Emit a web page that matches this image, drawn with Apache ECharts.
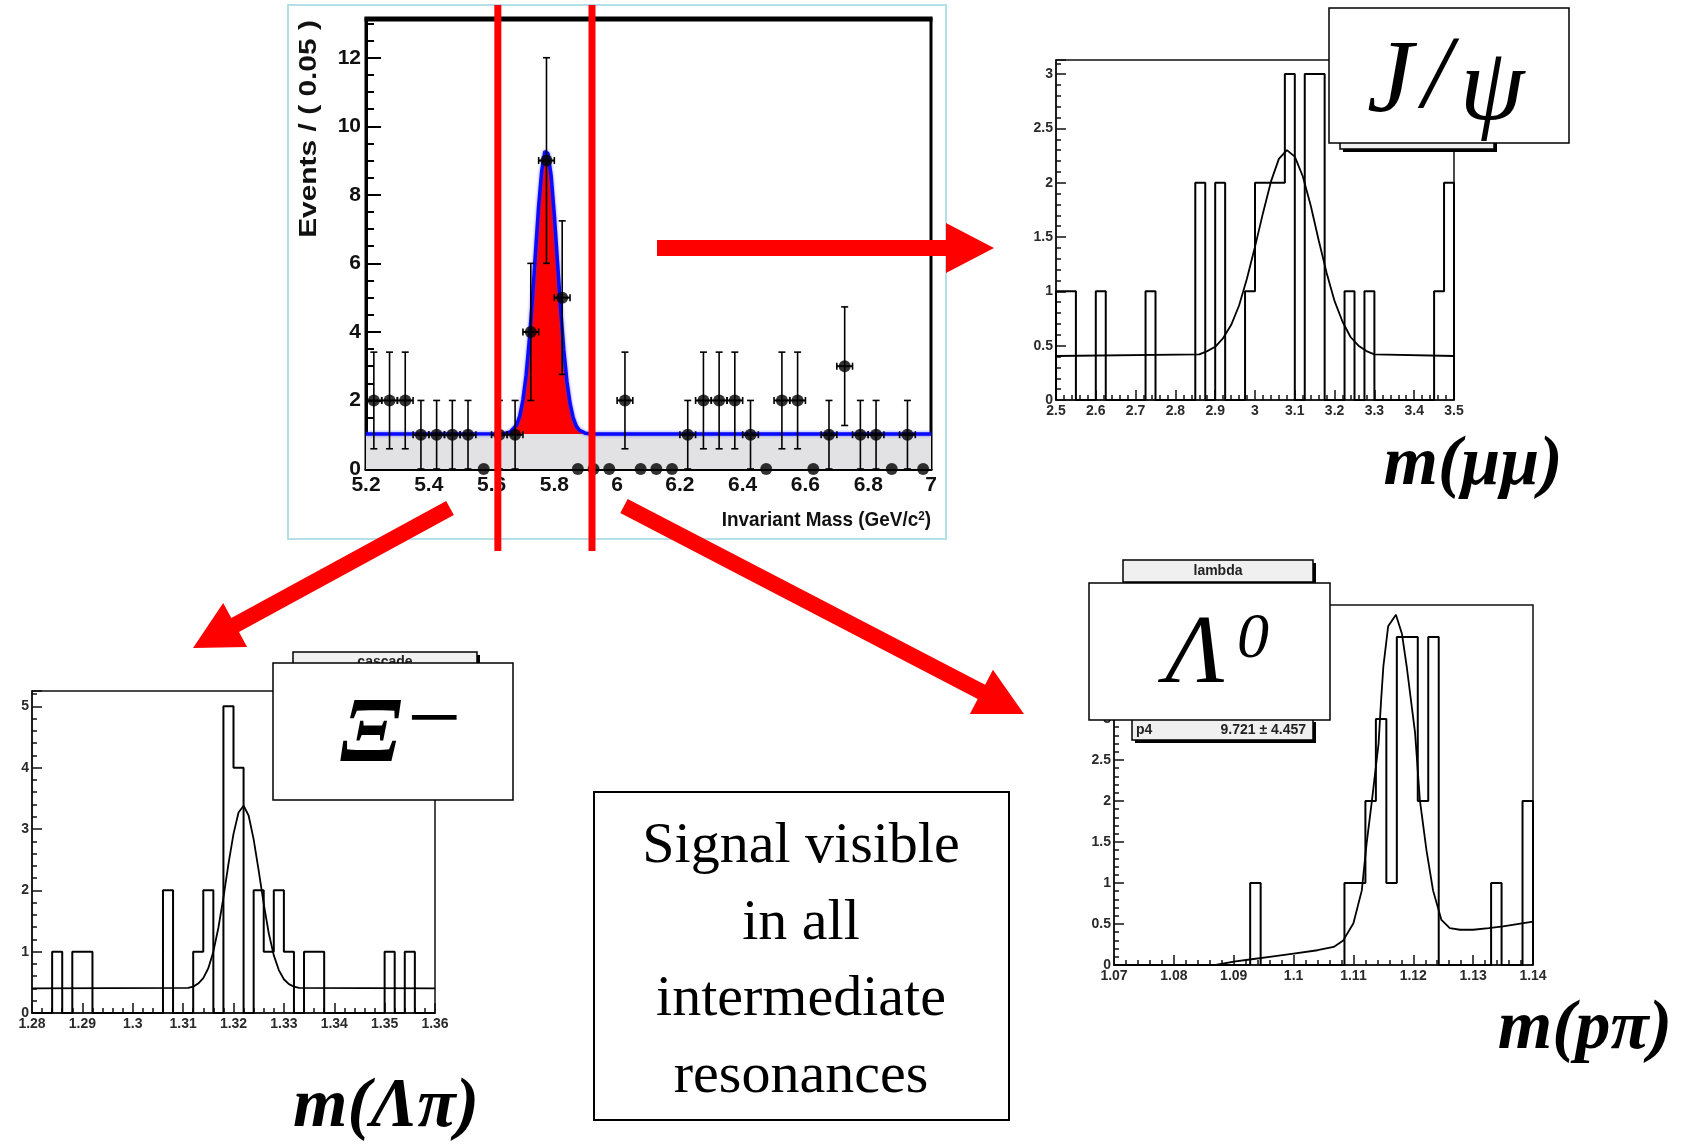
<!DOCTYPE html>
<html>
<head>
<meta charset="utf-8">
<title>B candidate mass and intermediate resonances</title>
<script src="https://cdn.jsdelivr.net/npm/echarts@6/dist/echarts.min.js"></script>
<style>
  html, body { margin: 0; padding: 0; background: #ffffff; }
  #chart { width: 1691px; height: 1144px; }
</style>
</head>
<body>
<div id="chart"></div>
<script>
// ---------- B candidate invariant mass (GeV/c^2), 0.05 GeV bins ----------
const bMassCenters = [5.225, 5.275, 5.325, 5.375, 5.425, 5.475, 5.525, 5.575, 5.625, 5.675,
                      5.725, 5.775, 5.825, 5.875, 5.925, 5.975, 6.025, 6.075, 6.125, 6.175,
                      6.225, 6.275, 6.325, 6.375, 6.425, 6.475, 6.525, 6.575, 6.625, 6.675,
                      6.725, 6.775, 6.825, 6.875, 6.925, 6.975];
const bCounts = [2, 2, 2, 1, 1, 1, 1, 0, 1, 1,
                 4, 9, 5, 0, 0, 0, 2, 0, 0, 0,
                 1, 2, 2, 2, 1, 0, 2, 2, 0, 1,
                 3, 1, 1, 0, 1, 0];
const bErrors = [1.41, 1.41, 1.41, 1, 1, 1, 1, 0, 1, 1,
                 2, 3, 2.24, 0, 0, 0, 1.41, 0, 0, 0,
                 1, 1.41, 1.41, 1.41, 1, 0, 1.41, 1.41, 0, 1,
                 1.73, 1, 1, 0, 1, 0];
const bBinWidth = 0.05;
const bBackground = 1.02;
// signal + background fit curve [mass, events]
const bFit = [[5.2, 1.02], [5.64, 1.03], [5.66, 1.08], [5.68, 1.29], [5.69, 1.55], [5.70, 2.02],
              [5.71, 2.73], [5.72, 3.72], [5.73, 4.95], [5.74, 6.33], [5.75, 7.67], [5.76, 8.71],
              [5.77, 9.27], [5.775, 9.32], [5.78, 9.20], [5.79, 8.54], [5.80, 7.41], [5.81, 6.06],
              [5.82, 4.69], [5.83, 3.49], [5.84, 2.56], [5.85, 1.92], [5.86, 1.50], [5.87, 1.25],
              [5.88, 1.13], [5.90, 1.04], [5.92, 1.02], [7.0, 1.02]];
// mass window used for the sub-selections
const bWindow = [5.62, 5.92];
const bTicks = { min: 5.2, max: 7, step: 0.2 };
const bYTicks = { min: 0, max: 13.13, step: 2 };

// ---------- J/psi -> mu mu ----------
const jpsiRange = [2.5, 3.5];
const jpsiBinWidth = 0.025;
const jpsiCounts = [1, 1, 0, 0, 1, 0, 0, 0, 0, 1,
                    0, 0, 0, 0, 2, 0, 2, 0, 0, 1,
                    2, 2, 2, 3, 0, 3, 3, 0, 0, 1,
                    0, 1, 0, 0, 0, 0, 0, 0, 1, 2];
const jpsiFit = [[2.5, 0.405], [2.86, 0.42], [2.88, 0.45], [2.90, 0.49], [2.92, 0.57], [2.94, 0.69],
                 [2.96, 0.87], [2.98, 1.12], [3.00, 1.41], [3.02, 1.72], [3.04, 2.01], [3.06, 2.22],
                 [3.08, 2.30], [3.10, 2.24], [3.12, 2.06], [3.14, 1.79], [3.16, 1.47], [3.18, 1.17],
                 [3.20, 0.91], [3.22, 0.72], [3.24, 0.58], [3.26, 0.50], [3.28, 0.45], [3.30, 0.42],
                 [3.5, 0.405]];

// ---------- Xi- -> Lambda pi ----------
const xiRange = [1.28, 1.36];
const xiBinWidth = 0.002;
const xiCounts = [0, 0, 1, 0, 1, 1, 0, 0, 0, 0,
                  0, 0, 0, 2, 0, 0, 1, 2, 0, 5,
                  4, 0, 2, 1, 2, 1, 0, 1, 1, 0,
                  0, 0, 0, 0, 0, 1, 0, 1, 0, 0];
const xiFit = [[1.28, 0.40], [1.311, 0.41], [1.312, 0.43], [1.313, 0.48], [1.314, 0.57], [1.315, 0.73],
               [1.316, 1.00], [1.317, 1.39], [1.318, 1.88], [1.319, 2.43], [1.320, 2.92], [1.321, 3.27],
               [1.322, 3.38], [1.323, 3.22], [1.324, 2.83], [1.325, 2.32], [1.326, 1.78], [1.327, 1.30],
               [1.328, 0.94], [1.329, 0.70], [1.330, 0.55], [1.331, 0.47], [1.332, 0.43], [1.333, 0.41],
               [1.36, 0.40]];

// ---------- Lambda0 -> p pi ----------
const lambdaRange = [1.07, 1.14];
const lambdaBinWidth = 0.00175;
const lambdaCounts = [0, 0, 0, 0, 0, 0, 0, 0, 0, 0,
                      0, 0, 0, 1, 0, 0, 0, 0, 0, 0,
                      0, 0, 1, 1, 2, 3, 1, 4, 4, 2,
                      4, 0, 0, 0, 0, 0, 1, 0, 0, 2];
const lambdaFit = [[1.087, 0.0], [1.090, 0.04], [1.093, 0.07], [1.096, 0.10], [1.100, 0.14],
                   [1.104, 0.18], [1.1067, 0.22], [1.1083, 0.30], [1.1100, 0.51], [1.1114, 0.91],
                   [1.1122, 1.48], [1.1131, 2.01], [1.1142, 2.70], [1.1146, 3.20], [1.1150, 3.64],
                   [1.1158, 4.13], [1.1171, 4.27], [1.1181, 4.04], [1.1189, 3.64], [1.1203, 2.83],
                   [1.1211, 2.01], [1.1222, 1.40], [1.1233, 0.91], [1.1247, 0.55], [1.1261, 0.45],
                   [1.1278, 0.43], [1.130, 0.43], [1.1326, 0.45], [1.135, 0.47], [1.14, 0.53]];
const lambdaFitParam = { name: 'p4', value: '9.721 \u00b1 4.457' };

// ---------- fonts ----------
const SANS_N = "'Liberation Sans Narrow','Liberation Sans',Arial,sans-serif";
const SANS = "'Liberation Sans','DejaVu Sans',Arial,sans-serif";
const SERIF = "'Liberation Serif','DejaVu Serif','Times New Roman',serif";

// step outline of a histogram from its bin contents
function histOutline(lo, width, counts) {
  const pts = [[lo, 0]];
  counts.forEach((v, i) => {
    pts.push([lo + i * width, v]);
    pts.push([lo + (i + 1) * width, v]);
  });
  pts.push([lo + counts.length * width, 0]);
  return pts;
}

// small ROOT-style axis pair for the resonance panels
function subAxes(gridIndex, xr, xStep, yMax, yStep) {
  const label = { fontFamily: SANS, fontWeight: 'bold', fontSize: 14, color: '#2a2a2a' };
  return {
    x: {
      gridIndex, type: 'value', min: xr[0], max: xr[1], interval: xStep,
      axisLine: { lineStyle: { color: '#111', width: 1.5 } },
      axisTick: { inside: true, length: 10, lineStyle: { color: '#111', width: 1.5 } },
      minorTick: { show: true, splitNumber: 5, length: 5, lineStyle: { color: '#111', width: 1.5 } },
      splitLine: { show: false },
      axisLabel: Object.assign({ margin: 4 }, label)
    },
    y: {
      gridIndex, type: 'value', min: 0, max: yMax, interval: yStep,
      axisLine: { lineStyle: { color: '#111', width: 1.5 } },
      axisTick: { inside: true, length: 10, lineStyle: { color: '#111', width: 1.5 } },
      minorTick: { show: true, splitNumber: 5, length: 5, lineStyle: { color: '#111', width: 1.5 } },
      splitLine: { show: false },
      axisLabel: Object.assign({ margin: 3, showMaxLabel: false }, label)
    }
  };
}

const jAx = subAxes(1, jpsiRange, 0.1, 3.13, 0.5);
const xAx = subAxes(2, xiRange, 0.01, 5.25, 1);
const lAx = subAxes(3, lambdaRange, 0.01, 4.39, 0.5);

const mainLabel = { fontFamily: SANS_N, fontWeight: 'bold', fontSize: 21, color: '#111' };

const errData = bMassCenters.map((m, i) => [m, bCounts[i], bErrors[i]]);
const dotData = bMassCenters.map((m, i) => [m, bCounts[i]]);

function renderErrorBar(params, api) {
  const x = api.value(0), y = api.value(1), e = api.value(2);
  if (!(e > 0)) return null;
  const hw = bBinWidth / 2;
  const p = api.coord([x, y]);
  const t = api.coord([x, y + e]);
  const b = api.coord([x, Math.max(0, y - e)]);
  const l = api.coord([x - hw, y]);
  const r = api.coord([x + hw, y]);
  const st = { stroke: '#000', lineWidth: 1.6 };
  const cap = 3.5;
  return {
    type: 'group',
    children: [
      { type: 'line', shape: { x1: p[0], y1: t[1], x2: p[0], y2: b[1] }, style: st },
      { type: 'line', shape: { x1: p[0] - cap, y1: t[1], x2: p[0] + cap, y2: t[1] }, style: st },
      { type: 'line', shape: { x1: p[0] - cap, y1: b[1], x2: p[0] + cap, y2: b[1] }, style: st },
      { type: 'line', shape: { x1: l[0], y1: p[1], x2: r[0], y2: p[1] }, style: { stroke: '#000', lineWidth: 2 } },
      { type: 'line', shape: { x1: l[0], y1: p[1] - cap, x2: l[0], y2: p[1] + cap }, style: st },
      { type: 'line', shape: { x1: r[0], y1: p[1] - cap, x2: r[0], y2: p[1] + cap }, style: st }
    ]
  };
}

const histLine = { color: '#000', width: 2 };
const fitLine = { color: '#000', width: 1.8 };

const option = {
  animation: false,
  backgroundColor: '#ffffff',
  grid: [
    { left: 366, top: 19, width: 565, height: 450, show: true, borderColor: '#000', borderWidth: 3, backgroundColor: 'transparent' },
    { left: 1056, top: 60, width: 398, height: 340, show: true, borderColor: '#111', borderWidth: 1.5, backgroundColor: 'transparent' },
    { left: 32, top: 691, width: 403, height: 322, show: true, borderColor: '#111', borderWidth: 1.5, backgroundColor: 'transparent' },
    { left: 1114, top: 605, width: 419, height: 360, show: true, borderColor: '#111', borderWidth: 1.5, backgroundColor: 'transparent' }
  ],
  xAxis: [
    {
      gridIndex: 0, type: 'value', min: bTicks.min, max: bTicks.max, interval: bTicks.step,
      axisLine: { lineStyle: { color: '#000', width: 3 } },
      axisTick: { inside: true, length: 15, lineStyle: { color: '#000', width: 2 } },
      minorTick: { show: true, splitNumber: 4, length: 8, lineStyle: { color: '#000', width: 2 } },
      splitLine: { show: false },
      axisLabel: Object.assign({ margin: 6 }, mainLabel)
    },
    jAx.x, xAx.x, lAx.x
  ],
  yAxis: [
    {
      gridIndex: 0, type: 'value', min: bYTicks.min, max: bYTicks.max, interval: bYTicks.step,
      axisLine: { lineStyle: { color: '#000', width: 3 } },
      axisTick: { inside: true, length: 15, lineStyle: { color: '#000', width: 2 } },
      minorTick: { show: true, splitNumber: 4, length: 8, lineStyle: { color: '#000', width: 2 } },
      splitLine: { show: false },
      axisLabel: Object.assign({ margin: 5, showMaxLabel: false }, mainLabel)
    },
    jAx.y, xAx.y, lAx.y
  ],
  series: [
    // signal component, filled between background and fit
    {
      type: 'line', xAxisIndex: 0, yAxisIndex: 0, data: bFit, showSymbol: false, silent: true,
      lineStyle: { width: 0 }, areaStyle: { color: '#ff0000', opacity: 1 }, z: 2
    },
    // background component
    {
      type: 'line', xAxisIndex: 0, yAxisIndex: 0, data: [[bTicks.min, bBackground], [bTicks.max, bBackground]],
      showSymbol: false, silent: true,
      lineStyle: { width: 0 }, areaStyle: { color: '#e2e1e3', opacity: 1 }, z: 3
    },
    // total fit
    {
      type: 'line', xAxisIndex: 0, yAxisIndex: 0, data: bFit, showSymbol: false, silent: true,
      lineStyle: { color: '#0a0aff', width: 3.5, shadowBlur: 3, shadowColor: 'rgba(60,60,255,0.7)' }, z: 4
    },
    // Poisson error bars
    {
      type: 'custom', xAxisIndex: 0, yAxisIndex: 0, data: errData, renderItem: renderErrorBar,
      encode: { x: 0, y: 1 }, silent: true, z: 5, clip: false
    },
    // data points
    {
      type: 'scatter', xAxisIndex: 0, yAxisIndex: 0, data: dotData, symbol: 'circle', symbolSize: 12,
      itemStyle: { color: '#000' }, silent: true, z: 6, clip: false
    },
    // J/psi
    {
      type: 'line', xAxisIndex: 1, yAxisIndex: 1, data: histOutline(jpsiRange[0], jpsiBinWidth, jpsiCounts),
      showSymbol: false, silent: true, lineStyle: histLine, z: 3
    },
    {
      type: 'line', xAxisIndex: 1, yAxisIndex: 1, data: jpsiFit,
      showSymbol: false, silent: true, lineStyle: fitLine, z: 4
    },
    // Xi-
    {
      type: 'line', xAxisIndex: 2, yAxisIndex: 2, data: histOutline(xiRange[0], xiBinWidth, xiCounts),
      showSymbol: false, silent: true, lineStyle: histLine, z: 3
    },
    {
      type: 'line', xAxisIndex: 2, yAxisIndex: 2, data: xiFit,
      showSymbol: false, silent: true, lineStyle: fitLine, z: 4
    },
    // Lambda0
    {
      type: 'line', xAxisIndex: 3, yAxisIndex: 3, data: histOutline(lambdaRange[0], lambdaBinWidth, lambdaCounts),
      showSymbol: false, silent: true, lineStyle: histLine, z: 3
    },
    {
      type: 'line', xAxisIndex: 3, yAxisIndex: 3, data: lambdaFit,
      showSymbol: false, silent: true, lineStyle: fitLine, z: 4
    }
  ]
};

const chart = echarts.init(document.getElementById('chart'), null, { renderer: 'canvas' });
chart.setOption(option);

// ---------- overlay drawing ----------
function arrowPoints(x1, y1, x2, y2, shaft, headLen, headW) {
  const dx = x2 - x1, dy = y2 - y1, L = Math.hypot(dx, dy);
  const ux = dx / L, uy = dy / L, nx = -uy, ny = ux;
  const bx = x2 - ux * headLen, by = y2 - uy * headLen;
  return [
    [x1 + nx * shaft / 2, y1 + ny * shaft / 2],
    [bx + nx * shaft / 2, by + ny * shaft / 2],
    [bx + nx * headW / 2, by + ny * headW / 2],
    [x2, y2],
    [bx - nx * headW / 2, by - ny * headW / 2],
    [bx - nx * shaft / 2, by - ny * shaft / 2],
    [x1 - nx * shaft / 2, y1 - ny * shaft / 2]
  ];
}
function arrow(x1, y1, x2, y2) {
  return { type: 'polygon', z: 80, silent: true, shape: { points: arrowPoints(x1, y1, x2, y2, 16, 48, 50) }, style: { fill: '#ff0000' } };
}
function box(x, y, w, h, fill, lw) {
  return { type: 'rect', z: 90, silent: true, shape: { x, y, width: w, height: h }, style: { fill: fill, stroke: '#000', lineWidth: lw || 1.5 } };
}
function statBox(x, y, w, h) {
  return [
    { type: 'rect', z: 85, silent: true, shape: { x: x + 3, y: y + 3, width: w, height: h }, style: { fill: '#000' } },
    { type: 'rect', z: 86, silent: true, shape: { x, y, width: w, height: h }, style: { fill: '#f0f0f0', stroke: '#000', lineWidth: 1.5 } }
  ];
}
function txt(x, y, text, font, extra, z) {
  return {
    type: 'text', z: z || 95, silent: true, x, y,
    style: Object.assign({ text, fill: '#000', align: 'center', verticalAlign: 'middle' }, font, extra || {})
  };
}

const winPx = bWindow.map(m => chart.convertToPixel({ xAxisIndex: 0 }, m));
const big = { fontFamily: SERIF, fontStyle: 'italic', fontSize: 104 };
const massLbl = { fontFamily: SERIF, fontStyle: 'italic', fontWeight: 'bold', fontSize: 70 };
const statFont = { fontFamily: SANS, fontWeight: 'bold', fontSize: 14, fill: '#222' };

// y-axis title of the B mass plot, stretched along its reading direction
const yTitle = txt(310, 129, 'Events / ( 0.05 )', { fontFamily: SANS, fontWeight: 'bold', fontSize: 23, fill: '#111' });
yTitle.rotation = Math.PI / 2;
yTitle.scaleX = 1.3;

const graphics = [
  // frame around the B mass plot
  { type: 'rect', z: 1, silent: true, shape: { x: 288, y: 5, width: 658, height: 534 }, style: { fill: 'none', stroke: '#b4dfe6', lineWidth: 2 } },
  // heavier top edge of the frame
  { type: 'line', z: 60, silent: true, shape: { x1: 364.5, y1: 19, x2: 932.5, y2: 19 }, style: { stroke: '#000', lineWidth: 5 } },
  yTitle,
  {
    type: 'text', z: 95, silent: true, x: 931, y: 520, scaleX: 0.9,
    style: {
      text: 'Invariant Mass (GeV/c{sup|2})', align: 'right', verticalAlign: 'middle',
      fontFamily: SANS_N, fontWeight: 'bold', fontSize: 21, fill: '#111',
      rich: { sup: { fontFamily: SANS_N, fontWeight: 'bold', fontSize: 13, fill: '#111', verticalAlign: 'top', padding: [0, 0, 8, 0] } }
    }
  },
  // selected mass window
  { type: 'line', z: 70, silent: true, shape: { x1: winPx[0], y1: 5, x2: winPx[0], y2: 551 }, style: { stroke: '#ff0000', lineWidth: 7 } },
  { type: 'line', z: 70, silent: true, shape: { x1: winPx[1], y1: 5, x2: winPx[1], y2: 551 }, style: { stroke: '#ff0000', lineWidth: 7 } },
  // arrows to the resonance plots
  arrow(657, 248, 994, 248),
  arrow(450, 508, 193, 648),
  arrow(624, 506, 1024, 714),

  // J/psi panel labels
  ...statBox(1340, 118, 154, 31),
  box(1329, 8, 240, 135, '#fff', 1.5),
  txt(1390, 84, 'J', big),
  txt(1437, 80, '/', big),
  txt(1492, 92, '\u03c8', big),
  txt(1473, 466, 'm(\u03bc\u03bc)', massLbl),

  // Xi panel labels
  ...statBox(293, 652, 184, 26),
  txt(385, 662, 'cascade', statFont, null, 87),
  box(273, 663, 240, 137, '#fff', 1.5),
  txt(371, 737, '\u039e', { fontFamily: SERIF, fontStyle: 'italic', fontWeight: 'bold', fontSize: 94 }),
  txt(434, 724, '\u2212', { fontFamily: SERIF, fontSize: 96 }),
  txt(386, 1108, 'm(\u039b\u03c0)', massLbl),

  // Lambda panel labels
  ...statBox(1123, 560, 190, 22),
  txt(1218, 571, 'lambda', statFont),
  ...statBox(1132, 719, 181, 21),
  txt(1136, 730, lambdaFitParam.name, statFont, { align: 'left' }),
  txt(1306, 730, lambdaFitParam.value, statFont, { align: 'right' }),
  box(1089, 583, 241, 137, '#fff', 1.5),
  txt(1195, 656, '\u039b', { fontFamily: SERIF, fontStyle: 'italic', fontSize: 98 }),
  txt(1253, 640, '0', { fontFamily: SERIF, fontStyle: 'italic', fontSize: 64 }),
  txt(1585, 1030, 'm(p\u03c0)', massLbl),

  // summary box
  box(594, 792, 415, 328, '#fff', 2),
  txt(801, 847, 'Signal visible', { fontFamily: SERIF, fontSize: 58 }),
  txt(801, 924, 'in all', { fontFamily: SERIF, fontSize: 58 }),
  txt(801, 1000, 'intermediate', { fontFamily: SERIF, fontSize: 58 }),
  txt(801, 1077, 'resonances', { fontFamily: SERIF, fontSize: 58 })
];

chart.setOption({ graphic: graphics });
</script>
</body>
</html>
